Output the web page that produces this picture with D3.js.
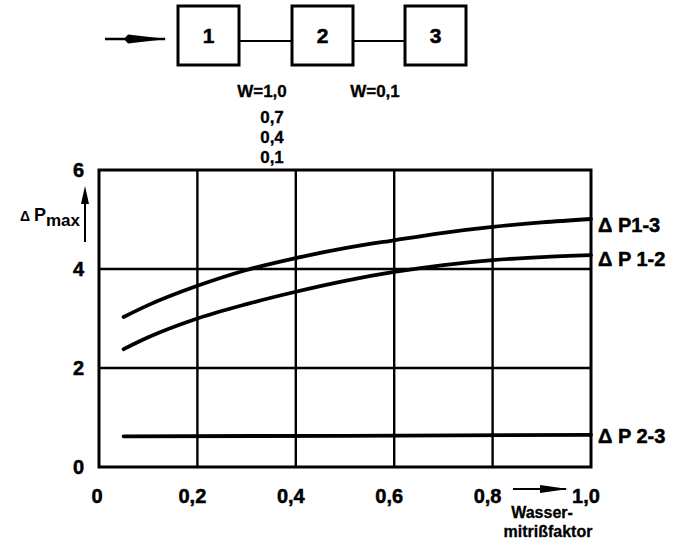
<!DOCTYPE html>
<html>
<head>
<meta charset="utf-8">
<script src="https://cdn.jsdelivr.net/npm/d3@7/dist/d3.min.js"></script>
<style>
  body { margin: 0; background: #fff; }
  text { font-family: "Liberation Sans", Arial, sans-serif; font-weight: bold; fill: #000; }
</style>
</head>
<body>
<svg width="673" height="553"></svg>
<script>
// Wassermitrißfaktor (x) and pressure drops
const xs = [0.05, 0.1, 0.2, 0.3, 0.4, 0.5, 0.6, 0.7, 0.8, 0.9, 1.0]
const dp13 = [3.03, 3.27, 3.66, 3.98, 4.22, 4.42, 4.58, 4.73, 4.85, 4.94, 5.01]
const dp12 = [2.38, 2.62, 3.0, 3.29, 3.54, 3.76, 3.94, 4.08, 4.18, 4.24, 4.28]
const xs23 = [0.05, 0.5, 1.0]
const dp23 = [0.62, 0.63, 0.65]

const seriesNames = ["\u0394 P1-3", "\u0394 P 1-2", "\u0394 P 2-3"]
const xTicks = [0, 0.2, 0.4, 0.6, 0.8, 1.0]
const xTickLabels = ["0", "0,2", "0,4", "0,6", "0,8", "1,0"]
const yTicks = [0, 2, 4, 6]
const yTickLabels = ["0", "2", "4", "6"]

// flow scheme on top
const blocks = ["1", "2", "3"]
const wLeft = ["W=1,0", "0,7", "0,4", "0,1"]
const wRight = "W=0,1"

var svg = d3.select("svg")
svg.append("rect").attr("width", 673).attr("height", 553).attr("fill", "#fff")

var x = d3.scaleLinear().domain([0, 1]).range([99, 591])
var y = d3.scaleLinear().domain([0, 6]).range([467, 170])

// grid
var g = svg.append("g").attr("stroke", "#000").attr("stroke-width", 2.4)
g.selectAll(".vg").data(xTicks.slice(1, -1)).enter().append("line")
  .attr("x1", d => x(d)).attr("x2", d => x(d)).attr("y1", y(0)).attr("y2", y(6))
g.selectAll(".hg").data(yTicks.slice(1, -1)).enter().append("line")
  .attr("y1", d => y(d)).attr("y2", d => y(d)).attr("x1", x(0)).attr("x2", x(1))
svg.append("rect").attr("x", x(0)).attr("y", y(6))
  .attr("width", x(1) - x(0)).attr("height", y(0) - y(6))
  .attr("fill", "none").attr("stroke", "#000").attr("stroke-width", 3)

// curves
var line = d3.line().x(d => x(d[0])).y(d => y(d[1])).curve(d3.curveMonotoneX)
var curves = [d3.zip(xs, dp13), d3.zip(xs, dp12), d3.zip(xs23, dp23)]
svg.selectAll(".curve").data(curves).enter().append("path")
  .attr("d", line).attr("fill", "none").attr("stroke", "#000")
  .attr("stroke-width", 3.8).attr("stroke-linecap", "round")

// curve labels at right
var labelEnds = [dp13[dp13.length - 1], dp12[dp12.length - 1], dp23[dp23.length - 1]]
svg.selectAll(".clab").data(seriesNames).enter().append("text")
  .attr("x", 598).attr("y", (d, i) => y(labelEnds[i]) + [13, 11, 8][i])
  .attr("font-size", 20).attr("stroke", "#000").attr("stroke-width", 0.5)
  .text(d => d)

// tick labels
svg.selectAll(".xt").data(xTicks).enter().append("text")
  .attr("x", (d, i) => x(d) - (i == 0 ? 2 : 5)).attr("y", 503)
  .attr("text-anchor", "middle").attr("font-size", 20)
  .attr("stroke", "#000").attr("stroke-width", 0.5)
  .text((d, i) => xTickLabels[i])
svg.selectAll(".yt").data(yTicks).enter().append("text")
  .attr("x", 84).attr("y", d => y(d) + 7)
  .attr("text-anchor", "end").attr("font-size", 20)
  .attr("stroke", "#000").attr("stroke-width", 0.5)
  .text((d, i) => yTickLabels[i])

// y axis title with arrow
var yt = svg.append("text").attr("x", 20).attr("y", 221).attr("font-size", 18)
yt.append("tspan").attr("font-size", 14).text("\u0394 ")
yt.append("tspan").text("P")
yt.append("tspan").attr("dy", 5).attr("font-size", 17).text("max")
svg.append("line").attr("x1", 85).attr("x2", 85).attr("y1", 242).attr("y2", 195)
  .attr("stroke", "#000").attr("stroke-width", 2)
svg.append("path").attr("d", "M85,186 L89,204 L81,204 Z").attr("fill", "#000")

// x axis title with arrow
svg.append("line").attr("x1", 513).attr("x2", 566).attr("y1", 489).attr("y2", 489)
  .attr("stroke", "#000").attr("stroke-width", 2)
svg.append("path").attr("d", "M568,489 L540,485 L540,493 Z").attr("fill", "#000")
svg.append("text").attr("x", 542).attr("y", 518).attr("text-anchor", "middle")
  .attr("font-size", 16).attr("stroke", "#000").attr("stroke-width", 0.3).text("Wasser-")
svg.append("text").attr("x", 548).attr("y", 537).attr("text-anchor", "middle")
  .attr("font-size", 16).attr("stroke", "#000").attr("stroke-width", 0.3).text("mitrißfaktor")

// flow scheme
var bx = [178, 292, 405], bw = 61, by = 6, bh = 59
var scheme = svg.append("g")
scheme.selectAll("rect").data(blocks).enter().append("rect")
  .attr("x", (d, i) => bx[i]).attr("y", by).attr("width", bw).attr("height", bh)
  .attr("fill", "none").attr("stroke", "#000").attr("stroke-width", 3)
scheme.selectAll("text").data(blocks).enter().append("text")
  .attr("x", (d, i) => bx[i] + bw / 2).attr("y", 43).attr("text-anchor", "middle")
  .attr("font-size", 21).attr("stroke", "#000").attr("stroke-width", 0.5).text(d => d)
scheme.selectAll(".conn").data([0, 1]).enter().append("line")
  .attr("x1", i => bx[i] + bw).attr("x2", i => bx[i + 1])
  .attr("y1", 41).attr("y2", 41).attr("stroke", "#000").attr("stroke-width", 2)
scheme.append("line").attr("x1", 105).attr("x2", 165).attr("y1", 39).attr("y2", 39)
  .attr("stroke", "#000").attr("stroke-width", 2.5)
scheme.append("path").attr("d", "M167,39 L128,34.5 L124,39 L128,43.5 Z").attr("fill", "#000")

svg.selectAll(".wl").data(wLeft).enter().append("text")
  .attr("x", (d, i) => i == 0 ? 262 : 272).attr("y", (d, i) => [97, 123, 143, 163][i])
  .attr("text-anchor", "middle").attr("font-size", 17)
  .attr("stroke", "#000").attr("stroke-width", 0.3).text(d => d)
svg.append("text").attr("x", 375).attr("y", 97).attr("text-anchor", "middle")
  .attr("font-size", 17).attr("stroke", "#000").attr("stroke-width", 0.3).text(wRight)
</script>
</body>
</html>
